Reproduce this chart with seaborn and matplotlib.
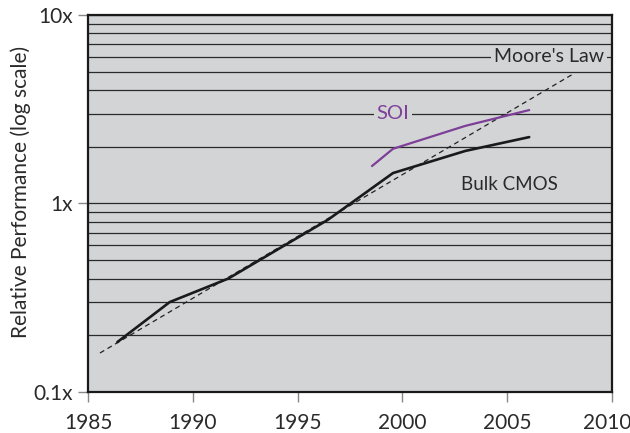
import matplotlib
matplotlib.use('Agg')
import matplotlib.pyplot as plt
import matplotlib.ticker as mticker
import matplotlib.transforms as mtransforms
import seaborn as sns
import pandas as pd

# dados
anos_bulk = [1986.4, 1988.9, 1991.7, 1996.45, 1999.55, 2003.0, 2006.05]
perf_bulk = [0.184, 0.30, 0.40, 0.82, 1.45, 1.90, 2.25]

anos_soi = [1998.55, 1999.55, 2003.0, 2006.05]
perf_soi = [1.58, 1.95, 2.58, 3.13]

anos_moore = [1985.57, 2008.14]
perf_moore = [0.161, 4.86]

x_ticks = [1985, 1990, 1995, 2000, 2005, 2010]
y_ticks = [0.1, 1, 10]
y_labels = ['0.1x', '1x', '10x']

sns.set_style('ticks')
plt.rcParams['font.family'] = ['Lato', 'DejaVu Sans']

fundo = '#d3d4d6'
roxo = '#7d3f98'
texto = '#2a2a2a'

df_bulk = pd.DataFrame({'ano': anos_bulk, 'perf': perf_bulk})
df_soi = pd.DataFrame({'ano': anos_soi, 'perf': perf_soi})
df_moore = pd.DataFrame({'ano': anos_moore, 'perf': perf_moore})

fig = plt.figure(figsize=(6.3, 4.33), dpi=100)
ax = fig.add_axes([0.1397, 0.0947, 0.8317, 0.8707])
ax.set_facecolor(fundo)

ax.set_yscale('log')
ax.set_xlim(1985, 2010)
ax.set_ylim(0.1, 10)

# linhas de grade horizontais (minor + major)
ax.yaxis.set_minor_locator(mticker.LogLocator(base=10, subs=range(2, 10)))
ax.grid(True, which='both', axis='y', color='#2a2a2a', linewidth=0.9)
ax.grid(False, axis='x')
ax.set_axisbelow(True)

sns.lineplot(data=df_moore, x='ano', y='perf', ax=ax, color='#222222',
             linewidth=0.9, dashes=False, linestyle=(0, (4, 3)))
sns.lineplot(data=df_bulk, x='ano', y='perf', ax=ax, color='#1a1a1a', linewidth=1.9)
sns.lineplot(data=df_soi, x='ano', y='perf', ax=ax, color=roxo, linewidth=1.6)

ax.text(2007.0, 6, "Moore's Law", ha='center', va='center', fontsize=14, color=texto,
        bbox=dict(facecolor=fundo, edgecolor='none', pad=2))
ax.text(1999.55, 3, 'SOI', ha='center', va='center', fontsize=14.5, color=roxo,
        bbox=dict(facecolor=fundo, edgecolor='none', pad=2))
ax.text(2005.1, 1.26, 'Bulk CMOS', ha='center', va='center', fontsize=13.5, color=texto)

ax.set_xticks(x_ticks)
ax.set_xticklabels([str(a) for a in x_ticks])
ax.set_yticks(y_ticks)
ax.set_yticklabels(y_labels)
ax.tick_params(axis='both', which='major', length=7, width=1, color='#888888',
               labelsize=15, labelcolor=texto)
ax.tick_params(axis='x', pad=8)
ax.tick_params(axis='y', pad=4)
ax.tick_params(axis='y', which='minor', length=0)

# ultimo rotulo um pouco para a esquerda para caber
ultimo = ax.get_xticklabels()[-1]
ultimo.set_transform(ultimo.get_transform() +
                     mtransforms.ScaledTranslation(-5 / 100, 0, fig.dpi_scale_trans))

ax.set_xlabel('')
ax.set_ylabel('Relative Performance (log scale)', fontsize=15, color=texto)
ax.yaxis.set_label_coords(-0.109, 0.53)

for lado in ['left', 'bottom', 'right', 'top']:
    ax.spines[lado].set_visible(True)
    ax.spines[lado].set_color('#1a1a1a')
    ax.spines[lado].set_linewidth(1.6)

fig.savefig('out.png', dpi=100)
